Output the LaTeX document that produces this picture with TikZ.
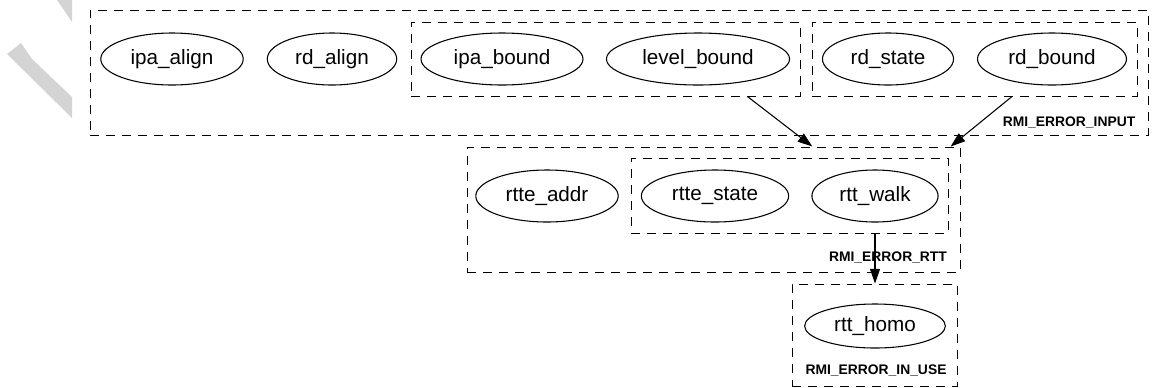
\documentclass[tikz,border=0pt]{standalone}
\usepackage{fontspec}
\setmainfont{Liberation Sans}
\usepackage{tikz}
\usetikzlibrary{shapes, calc, fit, arrows.meta}

\begin{document}
\begin{tikzpicture}[x=0.75pt, y=-0.75pt,
		every node/.style={font=\fontsize{15.5}{18}\selectfont},
		func/.style={draw, ellipse, line width=0.8pt, inner xsep=6.75pt, inner ysep=2pt, minimum height=39pt},
		cluster/.style={draw, dash pattern=on 7pt off 5pt, line width=0.75pt, inner sep=0pt},
		errlab/.style={font=\fontsize{10.4}{12}\selectfont\bfseries, inner sep=0pt},
		errarrow/.style={line width=0.8pt, -{Triangle[length=11pt, width=7.5pt]}},
		wmark/.style={fill=black!17, draw=none}]
		\useasboundingbox (0,0) rectangle (1152,387);
		\fill[wmark] (57,0) -- (72,0) -- (72,22) -- cycle;
		\fill[wmark] (7,54) -- (21,43) -- (32,59) -- (72,97) -- (72,118) -- cycle;
		
		\pgfmathsetmacro{\rowa}{59}
		\pgfmathsetmacro{\rowb}{196}
		\node[func] (ipaalign) at (172,\rowa) {ipa\_align};
		\node[func] (rdalign) at (332,\rowa) {rd\_align};
		\node[func] (ipabound) at (502,\rowa) {ipa\_bound};
		\node[func] (levelbound) at (698,\rowa) {level\_bound};
		\node[func] (rdstate) at (888,\rowa) {rd\_state};
		\node[func] (rdbound) at (1052,\rowa) {rd\_bound};
		
		\node[func] (rtteaddr) at (547,\rowb) {rtte\_addr};
		\node[func] (rttestate) at (715,\rowb) {rtte\_state};
		\node[func] (rttwalk) at (875,\rowb) {rtt\_walk};
		
		\node[func, minimum height=33pt] (rtthomo) at (875,326) {rtt\_homo};
		
		\node[cluster, fit={(90,10) (1148,135)}] (inputbox) {};
		\node[cluster, fit={(411,22) (800,96)}] (boundbox) {};
		\node[cluster, fit={(812,22) (1137,96)}] (rdbox) {};
		\node[cluster, fit={(467,147) (960,272)}] (rttbox) {};
		\node[cluster, fit={(631,158) (948,233)}] (walkbox) {};
		\node[cluster, fit={(792,284) (957,386)}] (usebox) {};
		
		\node[errlab] (inputlab) at (1069,122) {RMI\_ERROR\_INPUT};
		\node[errlab] (rttlab) at (888,257) {RMI\_ERROR\_RTT};
		\node[errlab] (uselab) at (876,370) {RMI\_ERROR\_IN\_USE};
		
		\draw[errarrow] ($(boundbox.south west)!0.864!(boundbox.south east)$) -- ($(rttbox.north west)!0.70!(rttbox.north east)$);
		\draw[errarrow] ($(rdbox.south west)!0.615!(rdbox.south east)$) -- ($(rttbox.north west)!0.98!(rttbox.north east)$);
		\draw[errarrow] (rttwalk |- walkbox.south) -- (rttwalk |- usebox.north);
\end{tikzpicture}
\end{document}
